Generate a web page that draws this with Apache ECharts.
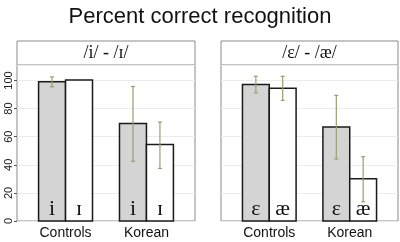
<!DOCTYPE html>
<html>
<head>
<meta charset="utf-8">
<script src="https://cdn.jsdelivr.net/npm/echarts@6/dist/echarts.min.js"></script>
<style>
html, body { margin: 0; padding: 0; background: #fff; }
#chart { width: 400px; height: 242px; }
</style>
</head>
<body>
<div id="chart"></div>
<script>
const groups = ['Controls', 'Korean'];
const yTicks = [0, 20, 40, 60, 80, 100];
const panelTitles = ['/i/ - /ɪ/', '/ε/ - /æ/'];
const panelVowels = [['i', 'ɪ'], ['ε', 'æ']];

// panel 1: /i/ (grey) and /ɪ/ (white)
const iMean = [99, 69.3];
const iLow = [95.5, 42.5];
const iHigh = [102.5, 95.7];
const ihMean = [100.3, 54.4];
const ihLow = [null, 37.4];
const ihHigh = [null, 70.4];

// panel 2: /ε/ (grey) and /æ/ (white)
const epsMean = [97.2, 66.9];
const epsLow = [91.2, 44.2];
const epsHigh = [103, 89.4];
const aeMean = [94.5, 30];
const aeLow = [85.8, 13.7];
const aeHigh = [103, 45.7];

const GREY = '#d4d4d4';
const ERR = '#9b9e70';

function rows(mean, low, high, side) {
  return groups.map((g, i) => [i + 1 + side / 6, mean[i], low[i] == null ? '-' : low[i], high[i] == null ? '-' : high[i]]);
}

function barSeries(gridIdx, mean, low, high, side, fill, letter) {
  return {
    type: 'custom',
    xAxisIndex: gridIdx,
    yAxisIndex: gridIdx,
    data: rows(mean, low, high, side),
    renderItem: function (params, api) {
      const x = api.value(0), v = api.value(1);
      const p0 = api.coord([x - 1 / 6, v]);
      const p1 = api.coord([x + 1 / 6, 0]);
      const cx = (p0[0] + p1[0]) / 2;
      const kids = [
        { type: 'rect', shape: { x: p0[0], y: p0[1], width: p1[0] - p0[0], height: p1[1] - p0[1] },
          style: { fill: fill, stroke: '#1a1a1a', lineWidth: 1.5 } },
        { type: 'text', style: { text: letter, x: cx, y: p1[1] - 12, align: 'center', verticalAlign: 'middle',
          font: '22px "Liberation Serif", serif', fill: '#111' } }
      ];
      const lo = api.value(2), hi = api.value(3);
      if (!isNaN(lo) && !isNaN(hi)) {
        const a = api.coord([x, hi]), b = api.coord([x, lo]);
        const st = { stroke: ERR, lineWidth: 1.2 };
        kids.push({ type: 'line', shape: { x1: cx, y1: a[1], x2: cx, y2: b[1] }, style: st });
        kids.push({ type: 'line', shape: { x1: cx - 2, y1: a[1], x2: cx + 2, y2: a[1] }, style: st });
        kids.push({ type: 'line', shape: { x1: cx - 2, y1: b[1], x2: cx + 2, y2: b[1] }, style: st });
      }
      return { type: 'group', children: kids };
    }
  };
}

const gridBoxes = [
  { left: 17, top: 65, width: 178, height: 156 },
  { left: 221, top: 65, width: 177, height: 156 }
];

const option = {
  animation: false,
  title: {
    text: 'Percent correct recognition',
    left: 'center',
    top: 1,
    textStyle: { fontSize: 22, fontWeight: 'normal', color: '#111', fontFamily: '"Liberation Sans", Arial, sans-serif' }
  },
  grid: gridBoxes.map(b => Object.assign({ show: true, borderColor: '#8a8a8a', borderWidth: 1 }, b)),
  xAxis: [0, 1].map(i => ({
    type: 'value',
    gridIndex: i,
    min: 0.4,
    max: 2.6,
    axisLine: { show: false },
    axisTick: { show: false },
    splitLine: { show: false },
    axisLabel: {
      customValues: [1, 2],
      formatter: v => groups[Math.round(v) - 1],
      fontSize: 14,
      margin: 5,
      color: '#111',
      fontFamily: '"Liberation Sans", Arial, sans-serif'
    }
  })),
  yAxis: [0, 1].map(i => ({
    type: 'value',
    gridIndex: i,
    min: yTicks[0],
    max: 111,
    interval: 20,
    axisLine: { show: false },
    axisTick: { show: i === 0, length: 3, lineStyle: { color: '#555' } },
    splitLine: { show: true, lineStyle: { color: '#ececec', width: 1 } },
    axisLabel: {
      show: i === 0,
      showMaxLabel: false,
      rotate: 90,
      fontSize: 11,
      margin: 3,
      color: '#222',
      fontFamily: '"Liberation Sans", Arial, sans-serif'
    }
  })),
  graphic: gridBoxes.map((b, i) => ({
    type: 'group',
    children: [
      { type: 'rect', shape: { x: b.left, y: 41, width: b.width, height: 24 },
        style: { fill: '#fff', stroke: '#8a8a8a', lineWidth: 1 } },
      { type: 'text', style: { text: panelTitles[i], x: b.left + b.width / 2, y: 53, align: 'center', verticalAlign: 'middle',
        font: '18px "Liberation Serif", serif', fill: '#111' } }
    ]
  })),
  series: [
    barSeries(0, iMean, iLow, iHigh, -1, GREY, panelVowels[0][0]),
    barSeries(0, ihMean, ihLow, ihHigh, 1, '#fff', panelVowels[0][1]),
    barSeries(1, epsMean, epsLow, epsHigh, -1, GREY, panelVowels[1][0]),
    barSeries(1, aeMean, aeLow, aeHigh, 1, '#fff', panelVowels[1][1])
  ]
};

const chart = echarts.init(document.getElementById('chart'));
chart.setOption(option);
</script>
</body>
</html>
